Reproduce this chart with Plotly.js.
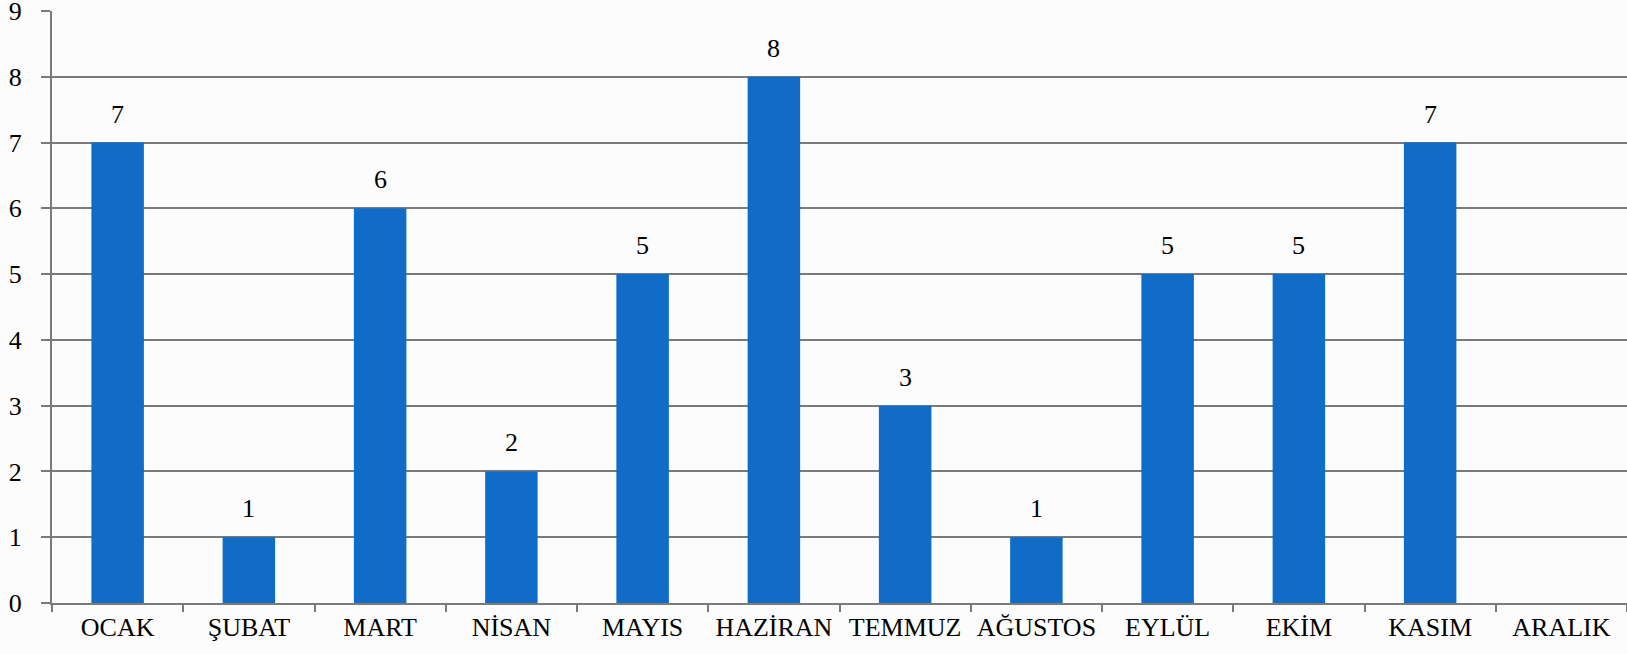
<!DOCTYPE html>
<html><head><meta charset="utf-8">
<script src="https://cdn.plot.ly/plotly-3.0.1.min.js"></script>
<style>html,body{margin:0;padding:0;background:#fcfcfc;}</style>
</head><body>
<div id="chart" style="width:1627px;height:654px;"></div>
<script>
const months = ['OCAK','ŞUBAT','MART','NİSAN','MAYIS','HAZİRAN','TEMMUZ','AĞUSTOS','EYLÜL','EKİM','KASIM','ARALIK'];
const counts = [7,1,6,2,5,8,3,1,5,5,7,null];
const yTicks = [0,1,2,3,4,5,6,7,8,9];

const FONT = 'Liberation Serif';
const annotations = months.map((m,i)=>counts[i]==null?null:({
  x:m, y:counts[i], xref:'x', yref:'y', text:String(counts[i]),
  showarrow:false, yanchor:'bottom', yshift:12,
  font:{family:FONT,size:26,color:'#000'}
})).filter(a=>a);

Plotly.newPlot('chart',[{
  type:'bar', x:months, y:counts,
  marker:{color:'#106cc6'},
  hoverinfo:'none'
}],{
  width:1627, height:654,
  margin:{l:52,r:0,t:11,b:51,pad:0},
  paper_bgcolor:'#fcfcfc', plot_bgcolor:'#fcfcfc',
  bargap:0.6,
  showlegend:false,
  font:{family:FONT,size:26,color:'#000'},
  xaxis:{
    type:'category', tickson:'boundaries', ticks:'outside', ticklen:7,
    tickcolor:'#7a7a7a', tickwidth:2,
    showline:true, linecolor:'#7a7a7a', linewidth:2,
    showgrid:false, tickfont:{family:FONT,size:26,color:'#000'},
    fixedrange:true
  },
  yaxis:{
    range:[0,9], tickvals:yTicks, ticktext:yTicks.map(String),
    ticks:'outside', ticklen:9, tickcolor:'#7a7a7a', tickwidth:2,
    showline:true, linecolor:'#7a7a7a', linewidth:2,
    showgrid:true, gridcolor:'#7a7a7a', gridwidth:2,
    zeroline:false, ticklabelstandoff:14, ticklabeloverflow:'allow',
    tickfont:{family:FONT,size:26,color:'#000'},
    fixedrange:true
  },
  annotations:annotations
},{displayModeBar:false,staticPlot:true});
</script>
</body></html>
